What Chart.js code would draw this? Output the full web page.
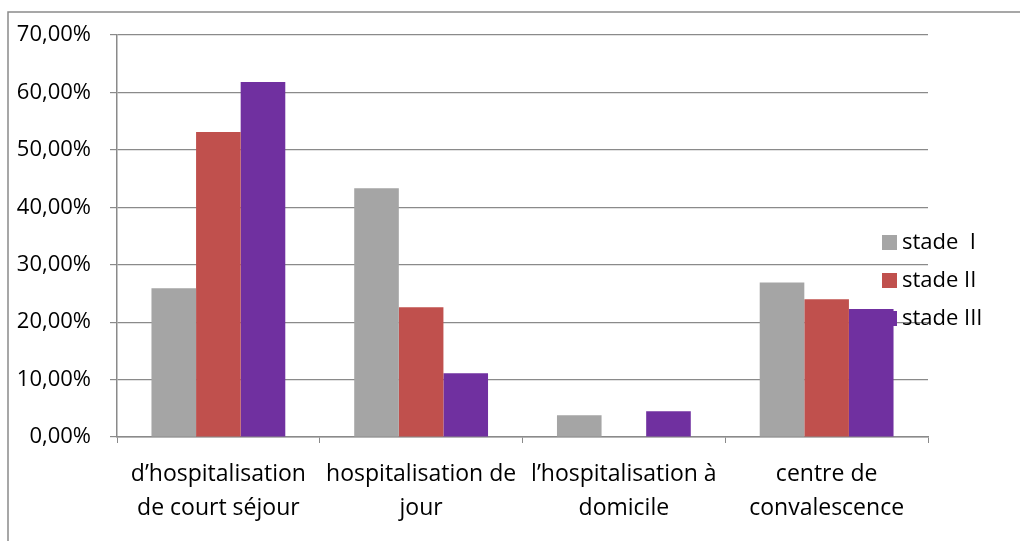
<!DOCTYPE html>
<html lang="fr">
<head>
    <meta charset="UTF-8">
    <title>Stades</title>
    <script src="https://cdn.jsdelivr.net/npm/chart.js"></script>
    <style>
        body { margin: 0; background: #fff; }
    </style>
</head>
<body>
    <canvas id="barChart" width="1020" height="541"></canvas>
    <script>
        var categories = [
            ['d\u2019hospitalisation', 'de court séjour'],
            ['hospitalisation de', 'jour'],
            ['l\u2019hospitalisation à', 'domicile'],
            ['centre de', 'convalescence']
        ];
        var seriesNames = ['stade  I', 'stade II', 'stade III'];
        var stade1 = [25.9, 43.3, 3.8, 26.9];
        var stade2 = [53.1, 22.6, 0, 24.0];
        var stade3 = [61.8, 11.1, 4.5, 22.3];
        var colors = ['#A5A5A5', '#C0504D', '#7030A0'];

        var fontName = '"Open Sans", Lato, sans-serif';

        // outer frame + legend drawn by hand, like the original sheet
        var framePlugin = {
            id: 'frame',
            beforeDraw: function(chart) {
                var c = chart.ctx;
                c.save();
                c.fillStyle = '#fff';
                c.fillRect(0, 0, chart.width, chart.height);
                c.strokeStyle = '#8a8a8a';
                c.lineWidth = 1.5;
                c.strokeRect(8, 12, chart.width, chart.height);
                c.restore();
            },
            afterDraw: function(chart) {
                var c = chart.ctx;
                c.save();
                c.font = '22px ' + fontName;
                c.textBaseline = 'middle';
                chart.data.datasets.forEach(function(ds, i) {
                    var y = 242 + i * 38;
                    c.fillStyle = ds.backgroundColor;
                    c.fillRect(882, y - 7, 15, 15);
                    c.fillStyle = '#000';
                    c.fillText(ds.label, 902, y + 1);
                });
                c.restore();
            }
        };

        var ctx = document.getElementById('barChart').getContext('2d');
        var chart = new Chart(ctx, {
            type: 'bar',
            data: {
                labels: categories,
                datasets: [
                    { label: seriesNames[0], data: stade1, backgroundColor: colors[0] },
                    { label: seriesNames[1], data: stade2, backgroundColor: colors[1] },
                    { label: seriesNames[2], data: stade3, backgroundColor: colors[2] }
                ]
            },
            options: {
                responsive: false,
                animation: false,
                categoryPercentage: 0.66,
                barPercentage: 1.0,
                layout: {
                    padding: { top: 35, right: 92, bottom: 0, left: 0 }
                },
                plugins: {
                    legend: { display: false },
                    tooltip: { enabled: false }
                },
                scales: {
                    x: {
                        grid: {
                            display: true,
                            drawOnChartArea: false,
                            tickLength: 6,
                            color: '#8a8a8a',
                            offset: true
                        },
                        border: { color: '#8a8a8a', width: 1.5 },
                        ticks: {
                            color: '#000',
                            padding: 14,
                            maxRotation: 0,
                            autoSkip: false,
                            font: { family: fontName, size: 23, lineHeight: 1.5 }
                        },
                        afterFit: function(scale) { scale.height = 541 - 437; }
                    },
                    y: {
                        min: 0,
                        max: 70,
                        grid: {
                            color: '#8a8a8a',
                            lineWidth: 1.2,
                            tickLength: 7
                        },
                        border: { color: '#8a8a8a', width: 1.5 },
                        ticks: {
                            stepSize: 10,
                            color: '#000',
                            padding: 19,
                            font: { family: fontName, size: 22 },
                            callback: function(v) { return v.toFixed(2).replace('.', ',') + '%'; }
                        },
                        afterFit: function(scale) { scale.width = 117; }
                    }
                }
            },
            plugins: [framePlugin]
        });
    </script>
</body>
</html>
